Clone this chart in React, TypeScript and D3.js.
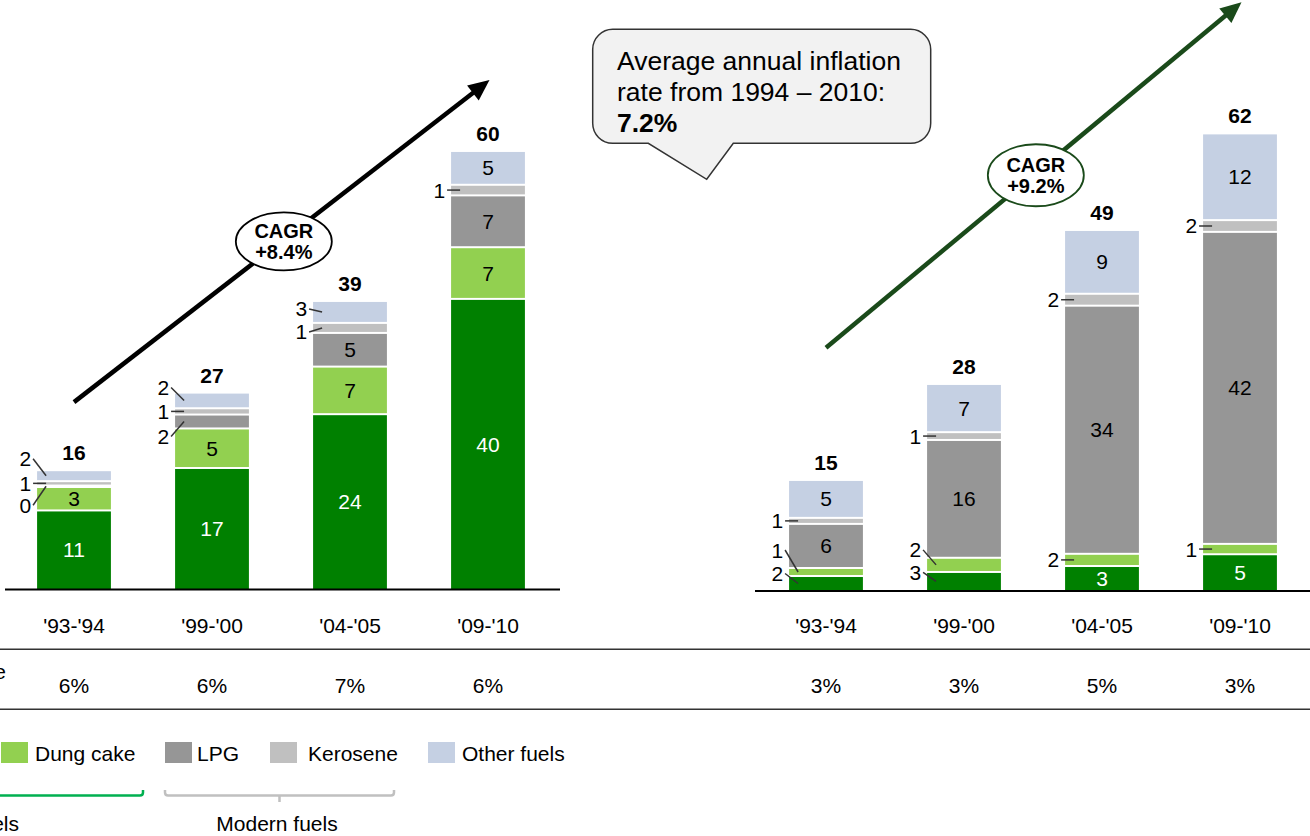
import React from 'react';
import * as d3 from 'd3';

// ---------- DATA ----------
const periods = ["'93-'94", "'99-'00", "'04-'05", "'09-'10"];
const seriesKeys = ['firewood', 'dungCake', 'lpg', 'kerosene', 'otherFuels'] as const;
const seriesNames = ['Firewood', 'Dung cake', 'LPG', 'Kerosene', 'Other fuels'];
const seriesColors = ['#008000', '#92d050', '#969696', '#c0c0c0', '#c5d0e3'];

// Left panel
const aFirewood = [10.8, 16.6, 23.95, 39.7];
const aDungCake = [3.2, 5.4, 6.5, 7.06];
const aLpg = [0.2, 1.9, 4.6, 7.08];
const aKerosene = [0.6, 0.86, 1.37, 1.45];
const aOtherFuels = [1.5, 2.14, 3.0, 4.62];
const aShare = ['6%', '6%', '7%', '6%'];
const aCagr = '+8.4%';

// Right panel
const bFirewood = [2.04, 2.59, 3.4, 5.0];
const bDungCake = [1.09, 1.93, 1.66, 1.41];
const bLpg = [6.0, 16.03, 33.76, 42.45];
const bKerosene = [0.82, 1.06, 1.62, 1.6];
const bOtherFuels = [5.16, 6.56, 8.68, 11.8];
const bShare = ['3%', '3%', '5%', '3%'];
const bCagr = '+9.2%';

const calloutLines = ['Average annual inflation', 'rate from 1994 \u2013 2010:'];
const calloutValue = '7.2%';

// labels drawn outside their segment with a leader line (dy = label offset)
const aOutside = [
  { bar: 0, key: 'otherFuels', dy: -17 }, { bar: 0, key: 'kerosene', dy: 0 }, { bar: 0, key: 'lpg', dy: 19 },
  { bar: 1, key: 'otherFuels', dy: -13 }, { bar: 1, key: 'kerosene', dy: 0 }, { bar: 1, key: 'lpg', dy: 15 },
  { bar: 2, key: 'otherFuels', dy: -3 }, { bar: 2, key: 'kerosene', dy: 4 },
  { bar: 3, key: 'kerosene', dy: 0 },
];
const bOutside = [
  { bar: 0, key: 'kerosene', dy: 0 }, { bar: 0, key: 'dungCake', dy: -22 }, { bar: 0, key: 'firewood', dy: -10 },
  { bar: 1, key: 'kerosene', dy: 0 }, { bar: 1, key: 'dungCake', dy: -15 }, { bar: 1, key: 'firewood', dy: -9 },
  { bar: 2, key: 'kerosene', dy: 0 }, { bar: 2, key: 'dungCake', dy: 0 },
  { bar: 3, key: 'kerosene', dy: 0 }, { bar: 3, key: 'dungCake', dy: 0 },
];

// ---------- LAYOUT ----------
const W = 1310;
const H = 836;
const FONT = "Arial, 'Liberation Sans', Helvetica, sans-serif";
const FS = 21;

type Row = { period: string; [k: string]: any };
const makeRows = (f: number[], d: number[], l: number[], k: number[], o: number[]): Row[] =>
  periods.map((p, i) => ({ period: p, firewood: f[i], dungCake: d[i], lpg: l[i], kerosene: k[i], otherFuels: o[i] }));

const rowsA = makeRows(aFirewood, aDungCake, aLpg, aKerosene, aOtherFuels);
const rowsB = makeRows(bFirewood, bDungCake, bLpg, bKerosene, bOtherFuels);

const stackGen = d3.stack<Row>().keys(seriesKeys as unknown as string[]);

function Arrow({ x1, y1, x2, y2, color, width }: any) {
  const ang = Math.atan2(y2 - y1, x2 - x1);
  const hl = 21, hw = 9.5;
  const bx = x2 - hl * Math.cos(ang), by = y2 - hl * Math.sin(ang);
  const px = -Math.sin(ang), py = Math.cos(ang);
  const pts = [[x2, y2], [bx + px * hw, by + py * hw], [bx - px * hw, by - py * hw]];
  return (
    <g>
      <line x1={x1} y1={y1} x2={bx + 2 * Math.cos(ang)} y2={by + 2 * Math.sin(ang)} stroke={color} strokeWidth={width} />
      <polygon points={pts.map(p => p.join(',')).join(' ')} fill={color} />
    </g>
  );
}

function Panel({ rows, xRange, yMax, yRange, outside, share, baseX, arrowY, arrowColor, cagr, ellipseRy, ellipseStroke }: any) {
  const x = d3.scaleBand<string>().domain(periods).range(xRange).paddingInner(0.465).paddingOuter(0.2325);
  const y = d3.scaleLinear().domain([0, yMax]).range(yRange);
  const bw = x.bandwidth();
  const stacked = stackGen(rows);
  const totals = rows.map((r: Row) => seriesKeys.reduce((s, k) => s + r[k], 0));
  const isOutside = (bar: number, key: string) => outside.some((o: any) => o.bar === bar && o.key === key);
  const cx = (p: string) => (x(p) as number) + bw / 2;

  const ax1 = cx(periods[0]), ay1 = y(arrowY[0]);
  const ax2 = cx(periods[3]) + 1.5, ay2 = y(arrowY[1]);
  const t = 0.505;
  const ex = ax1 + (ax2 - ax1) * t, ey = ay1 + (ay2 - ay1) * t + 2;

  return (
    <g>
      <Arrow x1={ax1} y1={ay1} x2={ax2} y2={ay2} color={arrowColor} width={4.5} />
      <g>
        <ellipse cx={ex} cy={ey} rx={48} ry={ellipseRy} fill="#fff" stroke={ellipseStroke} strokeWidth={1.8} />
        <text x={ex} y={ey - 3} textAnchor="middle" fontWeight="bold" fontSize={20}>CAGR</text>
        <text x={ex} y={ey + 18} textAnchor="middle" fontWeight="bold" fontSize={20}>{cagr}</text>
      </g>
      {stacked.map((s, si) => (
        <g key={s.key}>
          {s.map((d, i) => {
            const top = y(d[1]);
            const bot = y(d[0]);
            const isBottom = si === 0;
            const yy = top + 1;
            const hh = isBottom ? bot - top - 1 : bot - top - 2;
            if (hh <= 0) return null;
            return <rect key={i} x={x(periods[i])} y={yy} width={bw} height={hh} fill={seriesColors[si]} />;
          })}
        </g>
      ))}
      {stacked.map((s, si) =>
        s.map((d, i) => {
          if (isOutside(i, s.key)) return null;
          const mid = (y(d[0]) + y(d[1])) / 2;
          return (
            <text key={s.key + i} x={cx(periods[i])} y={mid + 7.5} textAnchor="middle" fontSize={FS} fill={si === 0 ? '#fff' : '#000'}>
              {Math.round(rows[i][s.key])}
            </text>
          );
        })
      )}
      {outside.map((o: any, j: number) => {
        const s = stacked.find(st => st.key === o.key)!;
        const d = s[o.bar];
        const mid = (y(d[0]) + y(d[1])) / 2;
        const left = x(periods[o.bar]) as number;
        const ly = mid + o.dy;
        return (
          <g key={'o' + j}>
            <line x1={left - 4} y1={ly} x2={left + 9} y2={mid} stroke="#333" strokeWidth={1.5} />
            <text x={left - 6} y={ly + 7.5} textAnchor="end" fontSize={FS}>{Math.round(rows[o.bar][o.key])}</text>
          </g>
        );
      })}
      {rows.map((r: Row, i: number) => (
        <text key={'t' + i} x={cx(r.period)} y={y(totals[i]) - 10} textAnchor="middle" fontWeight="bold" fontSize={FS}>
          {Math.round(totals[i])}
        </text>
      ))}
      <line x1={baseX[0]} x2={baseX[1]} y1={y(0)} y2={y(0)} stroke="#000" strokeWidth={2} />
      {periods.map(p => (
        <text key={'c' + p} x={cx(p)} y={632.5} textAnchor="middle" fontSize={FS}>{p}</text>
      ))}
      {share.map((sv: string, i: number) => (
        <text key={'s' + i} x={cx(periods[i])} y={692.5} textAnchor="middle" fontSize={FS}>{sv}</text>
      ))}
    </g>
  );
}

const legendLayout = [
  { sx: -150, tx: -115 },
  { sx: 1, tx: 35 },
  { sx: 165, tx: 197 },
  { sx: 270, tx: 308 },
  { sx: 428, tx: 462 },
];

export default function App() {
  const cx0 = 592.7, cx1 = 930.7, cy0 = 29.3, cy1 = 143.3, r = 20;
  const callout = `M${cx0 + r},${cy0} H${cx1 - r} A${r},${r} 0 0 1 ${cx1},${cy0 + r} V${cy1 - r} A${r},${r} 0 0 1 ${cx1 - r},${cy1} H733.3 L706.7,179.3 L648.3,${cy1} H${cx0 + r} A${r},${r} 0 0 1 ${cx0},${cy1 - r} V${cy0 + r} A${r},${r} 0 0 1 ${cx0 + r},${cy0} Z`;
  return (
    <svg width={W} height={H} style={{ position: 'absolute', left: 0, top: 0, background: '#fff' }} fontFamily={FONT}>
      <rect width={W} height={H} fill="#fff" />
      <Panel rows={rowsA} xRange={[5, 557]} yMax={60} yRange={[589.5, 150.3]} outside={aOutside} share={aShare}
        baseX={[5, 560]} arrowY={[25.6, 69.6]} arrowColor="#000" cagr={aCagr} ellipseRy={29} ellipseStroke="#000" />
      <Panel rows={rowsB} xRange={[757, 1309]} yMax={62} yRange={[591, 135.3]} outside={bOutside} share={bShare}
        baseX={[755, 1310]} arrowY={[33.1, 80.1]} arrowColor="#1a4a1a" cagr={bCagr} ellipseRy={31} ellipseStroke="#1a4a1a" />

      {/* table rules */}
      <line x1={0} x2={W} y1={649.3} y2={649.3} stroke="#333" strokeWidth={1.5} />
      <line x1={0} x2={W} y1={709.3} y2={709.3} stroke="#333" strokeWidth={1.5} />
      <text x={6} y={679} textAnchor="end" fontSize={FS}>Fuel share of expenditure</text>

      {/* callout */}
      <path d={callout} fill="#f2f2f2" stroke="#333" strokeWidth={1.5} />
      <text x={617} y={70} fontSize={26.5}>{calloutLines[0]}</text>
      <text x={617} y={101} fontSize={26.5}>{calloutLines[1]}</text>
      <text x={617} y={132} fontSize={26.5} fontWeight="bold">{calloutValue}</text>

      {/* legend */}
      {seriesNames.map((n, i) => (
        <g key={n}>
          <rect x={legendLayout[i].sx} y={742} width={27} height={21} fill={seriesColors[i]} />
          <text x={legendLayout[i].tx} y={760.5} fontSize={FS}>{n}</text>
        </g>
      ))}
      {/* brackets */}
      <path d="M-10,795.5 H140 Q143,795.5 143,792.5 V790" fill="none" stroke="#00b050" strokeWidth={2.5} />
      <path d="M165,790 V792.5 Q165,795.5 168,795.5 H391 Q394,795.5 394,792.5 V790 M279.5,795.5 V802" fill="none" stroke="#c0c0c0" strokeWidth={2.5} />
      <text x={19} y={830.5} textAnchor="end" fontSize={FS}>Traditional fuels</text>
      <text x={277} y={830.5} textAnchor="middle" fontSize={FS}>Modern fuels</text>
    </svg>
  );
}
